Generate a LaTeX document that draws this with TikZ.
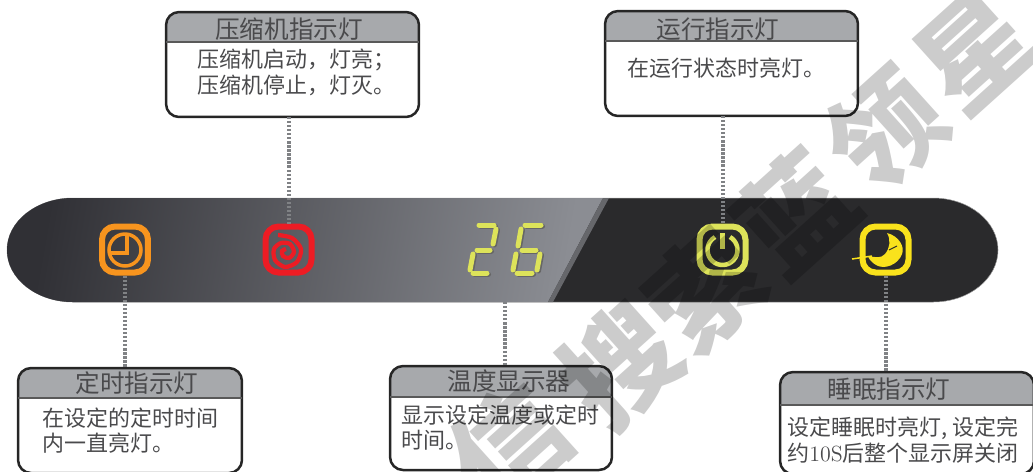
\documentclass[tikz,border=0pt]{standalone}
\usepackage{fontspec}
\usepackage{xcolor}
\usetikzlibrary{positioning, calc}
\newfontfamily\cjk{Noto Sans CJK SC}
\definecolor{barblack}{HTML}{2A2A2C}
\definecolor{barleft}{HTML}{303035}
\definecolor{barright}{HTML}{8B8D93}
\definecolor{barband}{HTML}{66676B}
\definecolor{headgray}{HTML}{A7A9AC}
\definecolor{inktext}{HTML}{4A4A4C}
\definecolor{lampor}{HTML}{F7941E}
\definecolor{lampre}{HTML}{ED1C24}
\definecolor{lampgr}{HTML}{DDE35A}
\definecolor{lampye}{HTML}{F9E21C}
\definecolor{lcdgreen}{HTML}{DDE35A}
\definecolor{leadgray}{HTML}{808285}
\definecolor{stampgray}{HTML}{CCCCCC}
\tikzstyle{frame} = [draw=black!85, line width=0.05cm, rounded corners=0.26cm, inner sep=0, outer sep=0]
\tikzstyle{headfill} = [fill=headgray]
\tikzstyle{headrule} = [draw=black!65, line width=0.025cm]
\tikzstyle{headtext} = [text=inktext, font=\cjk\fontsize{14pt}{16pt}\selectfont]
\tikzstyle{bodytext} = [text=inktext, align=left, anchor=west, inner sep=0, font=\cjk\fontsize{12.5pt}{14.6pt}\selectfont]
\tikzstyle{lamp} = [draw, rectangle, rounded corners=0.26cm, minimum size=0.92cm, line width=0.12cm, inner sep=0]
\tikzstyle{leader} = [draw=leadgray, line width=0.08cm, dash pattern=on 1.3pt off 1pt]
\tikzstyle{lcdseg} = [line width=0.1cm, line cap=round]
\tikzstyle{stamp} = [rotate=42, text=stampgray, font=\cjk\bfseries\fontsize{64pt}{64pt}\selectfont]

\begin{document}
\begin{tikzpicture}[x=0.02cm, y=-0.02cm]
    \clip (0,0) rectangle (1033,471);

    % Panel
    \fill[barblack, draw=black!40, line width=0.01cm] (73,198) -- (933,198) arc[start angle=-90, end angle=90, x radius=65, y radius=52] -- (73,302) arc[start angle=90, end angle=270, x radius=66, y radius=52] -- cycle;
    \shade[left color=barleft, right color=barright, shading angle=80] (73,198) -- (603,198) -- (548,302) -- (73,302) arc[start angle=90, end angle=270, x radius=66, y radius=52] -- cycle;
    \fill[barband] (603,198) -- (609,198) -- (553,302) -- (548,302) -- cycle;

    % Temperature digits
    \foreach \xa/\ya/\xb/\yb in {479/225/494/225, 496/229/493/244, 477/250/490/250, 473/254/470/270, 473/273/487/273,
                                 525/225/541/225, 521/229/518/246, 522/250/536/250, 516/254/513/270, 540/254/537/270, 517/273/532/273} {
        \draw[lcdseg, black!60] (\xa+1.5,\ya+1) -- (\xb+1.5,\yb+1);
        \draw[lcdseg, lcdgreen] (\xa,\ya) -- (\xb,\yb);
    }
    \coordinate (d1) at (505,302);

    % Lamps
    \node[lamp, draw=lampor] (i1) at (125,249.5) {};
    \draw[lampor, line width=0.07cm] (125,250) circle (16);
    \draw[lampor, line width=0.07cm] (127,234) -- (127,253) -- (109,253);

    \node[lamp, draw=lampre] (i2) at (288.5,249.5) {};
    \draw[lampre, line width=0.085cm, smooth] plot coordinates {(278,235) (292,238) (301,249) (297,262) (285,267) (275,260) (274,249) (281,243) (290,244) (294,252) (289,258) (283,256) (282,251) (286,249)};

    \node[lamp, draw=lampgr] (i3) at (722.5,249.5) {};
    \draw[lampgr, line width=0.09cm] (730,237) arc[start angle=-60, end angle=240, radius=15];
    \draw[lampgr, line width=0.09cm] (722.5,233) -- (722.5,249);

    \node[lamp, draw=lampye] (i4) at (885.5,249.5) {};
    \fill[lampye] (887,233) .. controls (899,236) and (905,247) .. (902,254) .. controls (898,265) and (884,270) .. (876,265) .. controls (871,262) and (869,259) .. (868,256) .. controls (874,257) and (881,259) .. (885,254) .. controls (890,248) and (891,240) .. (887,233) -- cycle;
    \draw[lampye, line width=0.03cm] (852,259) -- (872,256);
    \draw[barblack, line width=0.02cm] (889,250) -- (897,246);

    % Top boxes
    \fill[headfill] (166,42) [rounded corners=0.26cm] -- (166,12) -- (419,12) [sharp corners] -- (419,42) -- cycle;
    \node[frame, minimum width=5.06cm, minimum height=2.1cm] (b1) at (292.5,64.5) {};
    \draw[headrule] (b1.west |- 0,42) -- (b1.east |- 0,42);
    \node[headtext] (h1) at (289,29) {压缩机指示灯};
    \node[bodytext] (t1) at (197,72.5) {压缩机启动，灯亮；\\压缩机停止，灯灭。};

    \fill[headfill] (605,41) [rounded corners=0.26cm] -- (605,11) -- (858,11) [sharp corners] -- (858,41) -- cycle;
    \node[frame, minimum width=5.06cm, minimum height=2.1cm] (b2) at (731.5,63.5) {};
    \draw[headrule] (b2.west |- 0,41) -- (b2.east |- 0,41);
    \node[headtext] (h2) at (718,29) {运行指示灯};
    \node[bodytext] (t2) at (627,68) {在运行状态时亮灯。};

    % Bottom boxes
    \fill[headfill] (18,398) [rounded corners=0.26cm] -- (18,368) -- (242,368) [sharp corners] -- (242,398) -- cycle;
    \node[frame, minimum width=4.48cm, minimum height=2.1cm] (b3) at (130,420.5) {};
    \draw[headrule] (b3.west |- 0,398) -- (b3.east |- 0,398);
    \node[headtext] (h3) at (137,383) {定时指示灯};
    \node[bodytext] (t3) at (42,430.5) {在设定的定时时间\\内一直亮灯。};

    \fill[headfill] (390,397) [rounded corners=0.26cm] -- (390,366) -- (612,366) [sharp corners] -- (612,397) -- cycle;
    \node[frame, minimum width=4.44cm, minimum height=2.08cm] (b4) at (501,418) {};
    \draw[headrule] (b4.west |- 0,397) -- (b4.east |- 0,397);
    \node[headtext] (h4) at (509,381) {温度显示器};
    \node[bodytext] (t4) at (401,427.5) {显示设定温度或定时\\时间。};

    \fill[headfill] (780,405) [rounded corners=0.26cm] -- (780,372) -- (1033,372) [sharp corners] -- (1033,405) -- cycle;
    \node[frame, minimum width=5.08cm, minimum height=2.04cm] (b5) at (907,423) {};
    \draw[headrule] (b5.west |- 0,405) -- (b5.east |- 0,405);
    \node[headtext] (h5) at (889,389) {睡眠指示灯};
    \node[bodytext] (t5) at (787,440) {设定睡眠时亮灯, 设定完\\约{\rmfamily 10S}后整个显示屏关闭};

    % Leaders
    \draw[leader] (b1.south -| i2.north) -- (i2.north);
    \draw[leader] (b2.south -| i3.north) -- (i3.north);
    \draw[leader] (i1.south) -- (i1.south |- b3.north);
    \draw[leader] (d1) -- (d1 |- b4.north);
    \draw[leader] (i4.south) -- (i4.south |- b5.north);

    % Watermark
    \begin{scope}[blend mode=multiply]
        \node[stamp] (w1) at (510,445) {信};
        \node[stamp] (w2) at (620,365) {搜};
        \node[stamp] (w3) at (705,290) {索};
        \node[stamp] (w4) at (795,212) {蓝};
        \node[stamp] (w5) at (885,130) {领};
        \node[stamp] (w6) at (975,50) {星};
    \end{scope}
\end{tikzpicture}
\end{document}
